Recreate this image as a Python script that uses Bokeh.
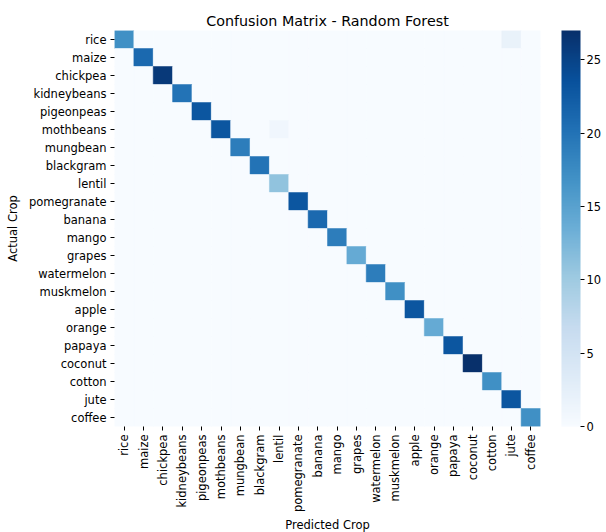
import math
from bokeh.plotting import figure
from bokeh.models import ColumnDataSource, LinearColorMapper, ColorBar, FixedTicker, Title
from bokeh.palettes import Blues256
from bokeh.embed import file_html
from bokeh.resources import INLINE

crops = ["rice", "maize", "chickpea", "kidneybeans", "pigeonpeas", "mothbeans",
         "mungbean", "blackgram", "lentil", "pomegranate", "banana", "mango",
         "grapes", "watermelon", "muskmelon", "apple", "orange", "papaya",
         "coconut", "cotton", "jute", "coffee"]
correct = [17, 21, 26, 20, 23, 23, 19, 20, 11, 23, 21, 19, 14, 19, 17, 23, 14, 23, 27, 17, 23, 17]
mis_actual = ["rice", "mothbeans"]
mis_pred = ["jute", "lentil"]
mis_count = [2, 1]
cbar_ticks = [0, 5, 10, 15, 20, 25]

counts = {}
for c, v in zip(crops, correct):
    counts[(c, c)] = v
for a, pr, v in zip(mis_actual, mis_pred, mis_count):
    counts[(a, pr)] = v

xs, ys, vals = [], [], []
for a in crops:
    for pr in crops:
        xs.append(pr)
        ys.append(a)
        vals.append(counts.get((a, pr), 0))

src = ColumnDataSource(dict(pred=xs, actual=ys, val=vals))
mapper = LinearColorMapper(palette=list(Blues256[::-1]), low=0, high=max(vals))

FONT = "DejaVu Sans"
FS = "11.5px"
p = figure(frame_width=426, frame_height=396, x_range=crops, y_range=crops[::-1],
           output_backend="svg", toolbar_location=None,
           title="Confusion Matrix - Random Forest",
           min_border_left=114, min_border_right=10, min_border_top=30, min_border_bottom=104)
p.rect(x="pred", y="actual", width=1, height=1, source=src,
       fill_color={"field": "val", "transform": mapper},
       line_color={"field": "val", "transform": mapper}, line_width=0.5)

p.grid.visible = False
p.outline_line_color = None
p.title.align = "center"
p.title.text_font = FONT
p.title.text_font_size = "14.3px"
p.title.text_font_style = "normal"
p.title.text_color = "black"
p.title.standoff = 3

for ax in (p.xaxis, p.yaxis):
    ax.axis_line_color = None
    ax.major_tick_out = 4
    ax.major_tick_in = 0
    ax.major_tick_line_color = "black"
    ax.major_label_standoff = 4
    ax.major_label_text_font = FONT
    ax.major_label_text_font_size = FS
    ax.major_label_text_color = "black"
    ax.axis_label_text_font = FONT
    ax.axis_label_text_font_size = FS
    ax.axis_label_text_font_style = "normal"
    ax.axis_label_text_color = "black"
p.xaxis.major_label_orientation = math.pi / 2
p.xaxis.axis_label = "Predicted Crop"
p.yaxis.axis_label = "Actual Crop"
p.xaxis.axis_label_standoff = 3
p.yaxis.axis_label_standoff = 6

# blank spacer between heatmap and colour bar
p.add_layout(Title(text=" ", text_font_size="12px", standoff=5), "right")

cb = ColorBar(color_mapper=mapper, ticker=FixedTicker(ticks=cbar_ticks), width=19,
              padding=0, margin=0, major_tick_out=4, major_tick_in=0,
              major_tick_line_color="black", bar_line_color=None, border_line_color=None,
              major_label_text_font=FONT, major_label_text_font_size=FS,
              major_label_text_color="black", label_standoff=2)
p.add_layout(cb, "right")

open("out.html", "w").write(file_html(p, INLINE))
